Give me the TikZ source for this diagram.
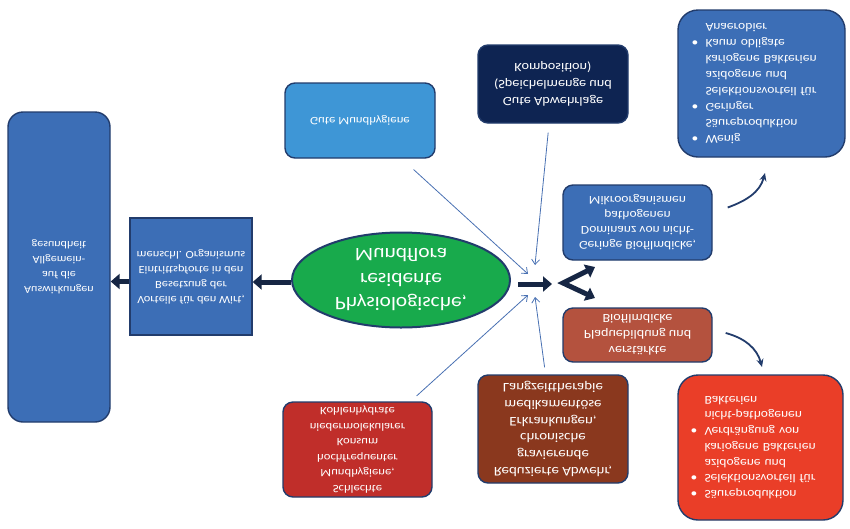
\documentclass[tikz,border=0pt]{standalone}
\usepackage{fontspec}
\setmainfont[FakeStretch=1.13]{Carlito}
\usetikzlibrary{arrows.meta,shapes.geometric}

\definecolor{boxblue}{RGB}{60,110,182}
\definecolor{lightblue}{RGB}{62,150,214}
\definecolor{navybox}{RGB}{14,36,82}
\definecolor{rimblue}{RGB}{34,60,108}
\definecolor{floragreen}{RGB}{24,170,76}
\definecolor{brickred}{RGB}{180,82,62}
\definecolor{brownbox}{RGB}{138,56,30}
\definecolor{darkred}{RGB}{192,46,42}
\definecolor{brightred}{RGB}{234,62,40}
\definecolor{arrownavy}{RGB}{22,38,68}
\definecolor{thinblue}{RGB}{72,112,178}

\newcommand{\bul}{\makebox[14pt][l]{\textbullet}}
\newcommand{\ind}{\hspace*{14pt}}
\newcommand{\fsz}[2]{\fontsize{#1}{#2}\selectfont}

\begin{document}
\begin{tikzpicture}[x=1pt,y=1pt,yscale=-1,transform shape]
\tikzset{
  box/.style={draw=rimblue, line width=1.4pt, rounded corners=10pt, text=white,
    align=center, inner sep=2pt, font=\fsz{11.5}{15.5}},
  listbox/.style={box, rounded corners=20pt, align=left, text width=140pt, font=\fsz{12}{16}},
  block/.style={draw=arrownavy, line width=5pt, -{Triangle[length=9pt,width=15pt]}},
  feed/.style={draw=thinblue, line width=0.8pt, -{Straight Barb[length=5pt,width=8pt]}},
  curvy/.style={draw=rimblue, line width=1.8pt, -{Stealth[length=8pt,width=7pt]}}
}
\useasboundingbox (0,0) rectangle (850,528);

\node[box, fill=boxblue, rounded corners=15pt, minimum width=102pt, minimum height=310pt, font=\fsz{10.7}{15}] (allg) at (59,267)
  {Auswirkungen\\auf die\\Allgemein-\\gesundheit};
\node[box, fill=boxblue, rounded corners=0pt, minimum width=122pt, minimum height=117pt, font=\fsz{11}{15}] (wirt) at (191,276.5)
  {Vorteile für den Wirt,\\Besetzung der\\Eintrittspforte in den\\menschl. Organismus};
\node[ellipse, draw=rimblue, line width=2pt, fill=floragreen, text=white, align=center, inner sep=0pt,
  minimum width=218pt, minimum height=95pt, font=\fsz{19}{24.5}] (flora) at (401,280)
  {Physiologische,\\residente\\Mundflora};

\node[box, fill=lightblue, minimum width=150pt, minimum height=75pt, font=\fsz{11.3}{15}] (mund) at (360,120.5) {Gute Mundhygiene};
\node[box, fill=navybox, minimum width=150pt, minimum height=78pt, font=\fsz{12.6}{17}] (abwehr) at (553,84)
  {Gute Abwehrlage\\(Speichelmenge und\\Komposition)};
\node[box, fill=darkred, minimum width=149pt, minimum height=95pt, font=\fsz{11.2}{15.5}] (schlecht) at (357.5,449.5)
  {Schlechte\\Mundhygiene,\\hochfrequenter\\Konsum\\niedermolekularer\\Kohlenhydrate};
\node[box, fill=brownbox, minimum width=150pt, minimum height=108pt, font=\fsz{13.2}{16.7}] (reduz) at (553,429)
  {Reduzierte Abwehr,\\gravierende\\chronische\\Erkrankungen,\\medikamentöse\\Langzeittherapie};

\node[box, fill=boxblue, minimum width=149pt, minimum height=75pt, font=\fsz{12}{15}] (gering) at (637.5,222.5)
  {Geringe Biofilmdicke,\\Dominanz von nicht-\\pathogenen\\Mikroorganismen};
\node[box, fill=brickred, minimum width=149pt, minimum height=54pt, font=\fsz{12.5}{16}] (plaque) at (637.5,335)
  {verstärkte\\Plaquebildung und\\Biofilmdicke};

\node[listbox, fill=boxblue, minimum width=167pt, minimum height=147pt] (gesund) at (761.5,83.5)
  {\bul Wenig\\\ind Säureproduktion\\\bul Geringer\\\ind Selektionsvorteil für\\\ind azidogene und\\\ind kariogene Bakterien\\\bul Kaum obligate\\\ind Anaerobier};
\node[listbox, fill=brightred, minimum width=165pt, minimum height=145pt, font=\fsz{12}{15.7}] (karies) at (760.5,447.5)
  {\bul Säureproduktion\\\bul Selektionsvorteil für\\\ind azidogene und\\\ind kariogene Bakterien\\\bul Verdrängung von\\\ind nicht-pathogenen\\\ind Bakterien};

\coordinate (hub) at (552,284);
\coordinate (forkup) at (595,267);
\coordinate (apex) at (563,283);
\coordinate (forkdown) at (595,298);
\coordinate (tMund) at (528,274);
\coordinate (tAbwehr) at (535,265);
\coordinate (tSchlecht) at (528,295);
\coordinate (tReduz) at (535,297);
\coordinate (upend) at (765,173);
\coordinate (downend) at (762,367);

\draw[block] ([yshift=2pt]flora.west) -- ([yshift=2pt]flora.west -| wirt.east);
\draw[block] ([yshift=5pt]wirt.west) -- ([yshift=5pt]wirt.west -| allg.east);
\draw[block, shorten <=7pt] ([yshift=4pt]flora.east) -- (hub);
\draw[draw=arrownavy, line width=5pt, line join=miter,
  {Triangle[length=9pt,width=14pt]}-{Triangle[length=9pt,width=14pt]}] (forkup) -- (apex) -- (forkdown);

\draw[feed, shorten <=16pt] (mund) -- (tMund);
\draw[feed, shorten <=9pt] (abwehr) -- (tAbwehr);
\draw[feed, shorten <=8pt] (schlecht) -- (tSchlecht);
\draw[feed, shorten <=7pt] (reduz) -- (tReduz);

\draw[curvy] ([shift={(15,-15)}]gering.east) to[out=-20, in=105] (upend);
\draw[curvy] ([shift={(13,-2)}]plaque.east) to[out=15, in=-105] (downend);
\end{tikzpicture}
\end{document}
